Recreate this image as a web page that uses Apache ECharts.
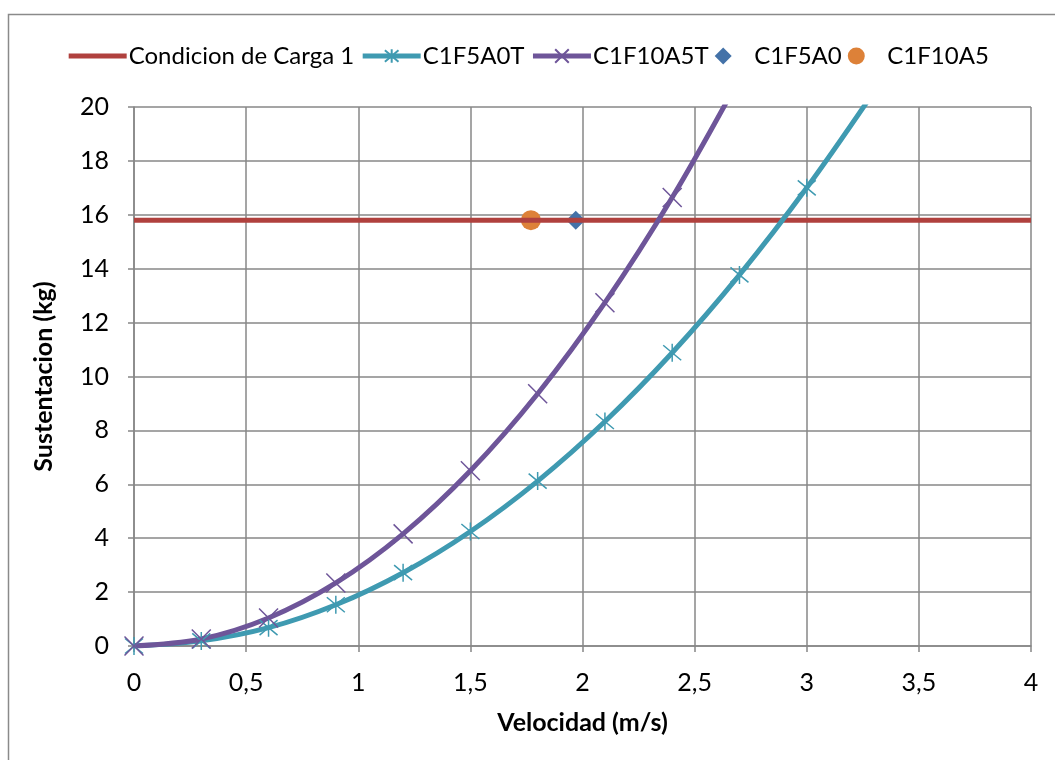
<!DOCTYPE html>
<html>
<head>
<meta charset="utf-8">
<script src="https://cdn.jsdelivr.net/npm/echarts@6/dist/echarts.min.js"></script>
<style>
  html, body { margin: 0; padding: 0; background: #fff; }
  #chart { width: 1055px; height: 760px; }
</style>
</head>
<body>
<div id="chart"></div>
<script>
var velocidades = [0, 0.3, 0.6, 0.9, 1.2, 1.5, 1.8, 2.1, 2.4, 2.7, 3.0, 3.3];
var c1f5a0t = [0, 0.19, 0.68, 1.53, 2.72, 4.25, 6.12, 8.33, 10.88, 13.77, 17.0, 20.57];
var c1f10a5t = [0, 0.26, 1.04, 2.34, 4.16, 6.5, 9.36, 12.74, 16.64, 21.06];
var cargaX = [0, 4];
var cargaY = [15.8, 15.8];
var c1f5a0 = [[1.97, 15.8]];
var c1f10a5 = [[1.77, 15.8]];

function pares(xs, ys) {
    var out = [];
    for (var i = 0; i < ys.length; i++) out.push([xs[i], ys[i]]);
    return out;
}

var asterisco = 'path://M0,0 L10,10 M10,0 L0,10 M5,-1 L5,11';
var cruz = 'path://M0,0 L10,10 M10,0 L0,10';
var rombo = 'path://M5,0 L10,5 L5,10 L0,5 Z';
var fuente = 'Lato, "Open Sans", sans-serif';

var dom = document.getElementById('chart');
var myChart = echarts.init(dom);
var option = {
    backgroundColor: '#fff',
    animation: false,
    textStyle: { fontFamily: fuente },
    graphic: [{
        type: 'rect',
        shape: { x: 8.5, y: 14.5, width: 1100, height: 800 },
        style: { fill: 'none', stroke: '#8a8a8a', lineWidth: 1.5 },
        silent: true
    }],
    legend: {
        top: 39,
        left: 'center',
        itemWidth: 58,
        itemHeight: 17,
        itemGap: 6,
        symbolKeepAspect: true,
        textStyle: { fontSize: 24, color: '#000', fontFamily: fuente, padding: [0, 0, 0, -3] },
        data: [
            { name: 'Condicion de Carga 1', itemStyle: { opacity: 0 }, lineStyle: { width: 5 } },
            { name: 'C1F5A0T', lineStyle: { width: 5 } },
            { name: 'C1F10A5T', lineStyle: { width: 5 } },
            { name: 'C1F5A0', icon: rombo },
            { name: 'C1F10A5', icon: 'circle' }
        ]
    },
    grid: { left: 134, right: 24, top: 107, bottom: 114 },
    xAxis: {
        type: 'value',
        min: 0, max: 4, interval: 0.5,
        name: 'Velocidad (m/s)',
        nameLocation: 'middle',
        nameGap: 64,
        nameTextStyle: { fontSize: 25, fontWeight: 'bold', color: '#000', fontFamily: fuente },
        axisLine: { show: true, onZero: false, lineStyle: { color: '#878787', width: 1.5 } },
        axisTick: { show: true, length: 6, lineStyle: { color: '#878787', width: 1.5 } },
        axisLabel: {
            fontSize: 25, color: '#000', margin: 24,
            formatter: function (v) { return String(v).replace('.', ','); }
        },
        splitLine: { show: true, lineStyle: { color: '#878787', width: 1.5 } }
    },
    yAxis: {
        type: 'value',
        min: 0, max: 20, interval: 2,
        name: 'Sustentacion (kg)',
        nameLocation: 'middle',
        nameGap: 78,
        nameTextStyle: { fontSize: 25, fontWeight: 'bold', color: '#000', fontFamily: fuente },
        axisLine: { show: true, lineStyle: { color: '#878787', width: 1.5 } },
        axisTick: { show: true, length: 6, lineStyle: { color: '#878787', width: 1.5 } },
        axisLabel: { fontSize: 25, color: '#000', margin: 25 },
        splitLine: { show: true, lineStyle: { color: '#878787', width: 1.5 } }
    },
    series: [
        {
            name: 'Condicion de Carga 1',
            type: 'line',
            data: pares(cargaX, cargaY),
            symbol: 'none',
            lineStyle: { color: '#b0413e', width: 5 },
            itemStyle: { color: '#b0413e' }
        },
        {
            name: 'C1F5A0T',
            type: 'line',
            data: pares(velocidades, c1f5a0t),
            smooth: 0.35,
            clip: true,
            symbol: asterisco,
            symbolSize: 18,
            lineStyle: { color: '#3f9ab1', width: 5 },
            itemStyle: { color: 'none', borderColor: '#3f9ab1', borderWidth: 1.5 }
        },
        {
            name: 'C1F10A5T',
            type: 'line',
            data: pares(velocidades, c1f10a5t),
            smooth: 0.35,
            clip: true,
            symbol: cruz,
            symbolSize: 19,
            lineStyle: { color: '#6e5599', width: 5 },
            itemStyle: { color: 'none', borderColor: '#6e5599', borderWidth: 1.5 }
        },
        {
            name: 'C1F5A0',
            type: 'scatter',
            data: c1f5a0,
            symbol: rombo,
            symbolSize: 19,
            itemStyle: { color: '#4472a8', opacity: 1 }
        },
        {
            name: 'C1F10A5',
            type: 'scatter',
            data: c1f10a5,
            symbol: 'circle',
            symbolSize: 20,
            itemStyle: { color: '#dd8138', opacity: 1 }
        }
    ]
};
myChart.setOption(option, true);
</script>
</body>
</html>
